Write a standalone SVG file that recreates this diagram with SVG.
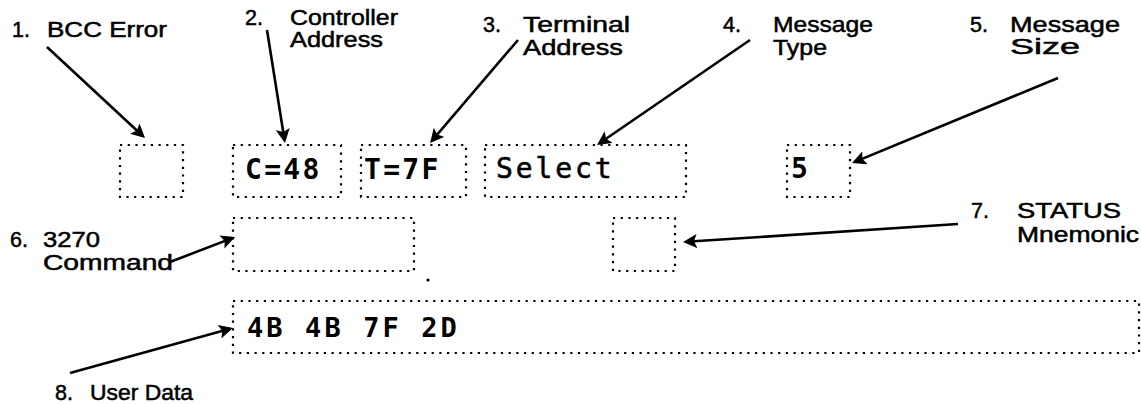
<svg xmlns="http://www.w3.org/2000/svg" width="1141" height="404" viewBox="0 0 1141 404">
<style>
.lbl{font-family:"Liberation Sans",Arial,sans-serif;font-size:21.5px;fill:#000;stroke:#000;stroke-width:0.5}
.mono{font-family:"DejaVu Sans Mono","Liberation Mono",monospace;font-size:28px;font-weight:bold;fill:#000;letter-spacing:2.3px}
.box{fill:none;stroke:#000;stroke-width:2.2;stroke-dasharray:2.2 5.5}
.con{fill:none;stroke:#000;stroke-width:2.6;marker-end:url(#ah)}
</style>
<defs>
<marker id="ah" markerUnits="userSpaceOnUse" markerWidth="15" markerHeight="14" refX="11" refY="7" orient="auto">
<path d="M0,0 L14,7 L0,14 L3,7 z" fill="#000"/>
</marker>
</defs>
<rect width="1141" height="404" fill="#fff"/>

<g id="field-bcc"><rect class="box" x="120" y="145" width="63" height="52"/></g>
<g id="field-controller"><rect class="box" x="233" y="145" width="108" height="52"/><text class="mono" x="245" y="179">C=48</text></g>
<g id="field-terminal"><rect class="box" x="361" y="145" width="105" height="52"/><text class="mono" x="364" y="179">T=7F</text></g>
<g id="field-type"><rect class="box" x="485" y="145" width="201" height="52"/><text class="mono" x="496" y="178" style="font-weight:normal;letter-spacing:2.9px;stroke:#000;stroke-width:0.6">Select</text></g>
<g id="field-size"><rect class="box" x="787" y="145" width="63" height="52"/><text class="mono" x="791" y="178">5</text></g>
<g id="field-command"><rect class="box" x="233" y="218" width="181" height="53"/></g>
<g id="field-status"><rect class="box" x="613" y="218" width="62" height="53"/></g>
<g id="field-data"><rect class="box" x="233" y="301" width="906" height="52"/><text class="mono" x="247" y="337" style="font-size:27px;letter-spacing:3.1px">4B 4B 7F 2D</text></g>

<g id="label-1"><text class="lbl" x="12" y="37">1.</text><text class="lbl" x="47" y="37" textLength="120" lengthAdjust="spacingAndGlyphs">BCC Error</text></g>
<g id="label-2"><text class="lbl" x="245" y="25">2.</text><text class="lbl" x="290" y="25" textLength="108" lengthAdjust="spacingAndGlyphs">Controller</text><text class="lbl" x="290" y="47" textLength="93" lengthAdjust="spacingAndGlyphs">Address</text></g>
<g id="label-3"><text class="lbl" x="483" y="32">3.</text><text class="lbl" x="523" y="32" textLength="107" lengthAdjust="spacingAndGlyphs">Terminal</text><text class="lbl" x="523" y="55" textLength="100" lengthAdjust="spacingAndGlyphs">Address</text></g>
<g id="label-4"><text class="lbl" x="723" y="32">4.</text><text class="lbl" x="773" y="32" textLength="100" lengthAdjust="spacingAndGlyphs">Message</text><text class="lbl" x="773" y="55" textLength="54" lengthAdjust="spacingAndGlyphs">Type</text></g>
<g id="label-5"><text class="lbl" x="970" y="32">5.</text><text class="lbl" x="1010" y="32" textLength="110" lengthAdjust="spacingAndGlyphs">Message</text><text class="lbl" x="1010" y="54" textLength="70" lengthAdjust="spacingAndGlyphs">Size</text></g>
<g id="label-6"><text class="lbl" x="10" y="247">6.</text><text class="lbl" x="43" y="247" textLength="57" lengthAdjust="spacingAndGlyphs">3270</text><text class="lbl" x="43" y="270" textLength="130" lengthAdjust="spacingAndGlyphs">Command</text></g>
<g id="label-7"><text class="lbl" x="971" y="218">7.</text><text class="lbl" x="1017" y="218" textLength="104" lengthAdjust="spacingAndGlyphs">STATUS</text><text class="lbl" x="1017" y="242" textLength="122" lengthAdjust="spacingAndGlyphs">Mnemonic</text></g>
<g id="label-8"><text class="lbl" x="55" y="400">8.</text><text class="lbl" x="90" y="400" textLength="103" lengthAdjust="spacingAndGlyphs">User Data</text></g>

<g id="connectors">
<line class="con" x1="47" y1="47" x2="142.8" y2="136"/>
<line class="con" x1="267" y1="30" x2="284.5" y2="140"/>
<line class="con" x1="518" y1="40" x2="432" y2="140.7"/>
<line class="con" x1="750" y1="40" x2="599.5" y2="143.3"/>
<line class="con" x1="1058" y1="78" x2="854.8" y2="161.9"/>
<line class="con" x1="170" y1="262" x2="232.2" y2="238.1"/>
<line class="con" x1="958" y1="224" x2="686" y2="241.8"/>
<line class="con" x1="70" y1="373" x2="230.1" y2="328.8"/>
</g>
<circle cx="428" cy="280" r="1.6" fill="#000"/>
</svg>
